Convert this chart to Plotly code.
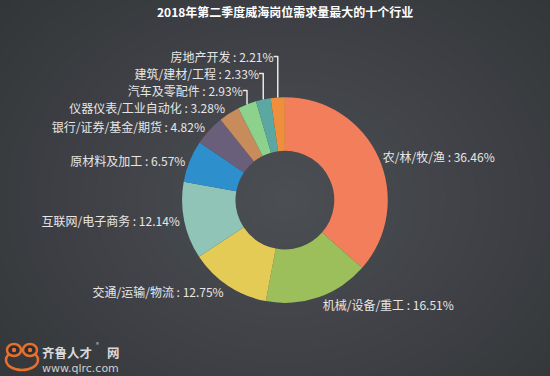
import plotly.graph_objects as go

categories = ["农/林/牧/渔", "机械/设备/重工", "交通/运输/物流", "互联网/电子商务", "原材料及加工",
              "银行/证券/基金/期货", "仪器仪表/工业自动化", "汽车及零配件", "建筑/建材/工程", "房地产开发"]
values = [36.46, 16.51, 12.75, 12.14, 6.57, 4.82, 3.28, 2.93, 2.33, 2.21]
colors = ["#f27e5c", "#9dbf5b", "#e3cb56", "#8fc4b6", "#2d8fcb", "#6a5f7a", "#c88b5c", "#8cd18c", "#5aa8a1", "#ef8e3d"]
title = "2018年第二季度威海岗位需求量最大的十个行业"

FONT = "Noto Sans CJK SC, Noto Sans, sans-serif"
W, H = 550, 376

fig = go.Figure()

# smooth radial background gradient via many layered ellipses
shapes = []
outer = (0x2a, 0x2c, 0x2f)
inner = (0x4b, 0x4e, 0x53)
N = 36
cx, cy = 0.52, 0.47
for i in range(N):
    t = i / (N - 1)
    col = tuple(round(outer[k] + (inner[k] - outer[k]) * t) for k in range(3))
    rx = 0.95 * (1 - t) + 0.02
    ry = 1.10 * (1 - t) + 0.03
    shapes.append(dict(type="circle", xref="paper", yref="paper",
                       x0=cx - rx, x1=cx + rx, y0=cy - ry, y1=cy + ry,
                       fillcolor="rgb(%d,%d,%d)" % col, line=dict(width=0), layer="below"))

fig.add_trace(go.Pie(
    labels=categories, values=values, sort=False, direction="clockwise", rotation=0,
    hole=0.48,
    marker=dict(colors=colors, line=dict(width=0)),
    texttemplate="%{label} : %{value:.2f}%", textposition="outside",
    textfont=dict(family=FONT, size=12, color="#e6e6e6"),
    domain=dict(x=[0.331, 0.705], y=[0.194, 0.742]),
    showlegend=False, hoverinfo="label+value",
))

def px(x):
    return x / W

def py(y):
    return 1 - y / H

annotations = [
    dict(text="<b>" + title + "</b>", x=0.518, y=py(11), xref="paper", yref="paper", xanchor="center",
         yanchor="middle", showarrow=False, font=dict(family=FONT, size=12, color="#ffffff")),
    dict(text="<b>齐鲁人才</b>", x=px(41), y=py(352), xref="paper", yref="paper", xanchor="left",
         yanchor="middle", showarrow=False, borderpad=0, font=dict(family=FONT, size=12.5, color="#d8d8d8")),
    dict(text="®", x=px(95), y=py(344), xref="paper", yref="paper", xanchor="left",
         yanchor="middle", showarrow=False, borderpad=0, font=dict(family=FONT, size=6, color="#d8d8d8")),
    dict(text="<b>网</b>", x=px(106), y=py(352), xref="paper", yref="paper", xanchor="left",
         yanchor="middle", showarrow=False, borderpad=0, font=dict(family=FONT, size=12.5, color="#d8d8d8")),
    dict(text="www.qlrc.com", x=px(41), y=py(368), xref="paper", yref="paper", xanchor="left",
         yanchor="middle", showarrow=False, borderpad=0, font=dict(family="DejaVu Sans, sans-serif", size=11, color="#d0d0d0")),
]

# frog logo
def circ(cx_, cy_, rx, ry, **kw):
    return dict(type="circle", xref="paper", yref="paper",
                x0=px(cx_ - rx), x1=px(cx_ + rx), y0=py(cy_ + ry), y1=py(cy_ - ry), **kw)

ORG = "#e8702f"
shapes += [
    circ(22, 360, 16, 10, fillcolor="rgba(0,0,0,0)", line=dict(color=ORG, width=2.5)),
    circ(14, 350, 7, 6, fillcolor="#2c2e31", line=dict(color=ORG, width=2.5)),
    circ(30, 350, 7, 6, fillcolor="#2c2e31", line=dict(color=ORG, width=2.5)),
    circ(14, 350, 2.2, 2.2, fillcolor=ORG, line=dict(width=0)),
    circ(30, 350, 2.2, 2.2, fillcolor=ORG, line=dict(width=0)),
]

fig.update_layout(
    width=W, height=H, margin=dict(l=0, r=0, t=0, b=0),
    paper_bgcolor="#2a2c2f", plot_bgcolor="#2a2c2f",
    shapes=shapes, annotations=annotations,
)

fig.write_html("out.html", config={"displayModeBar": False},
               post_script="document.body.style.margin='0';document.body.style.overflow='hidden';"
                           "document.body.style.background='#2a2c2f';")
